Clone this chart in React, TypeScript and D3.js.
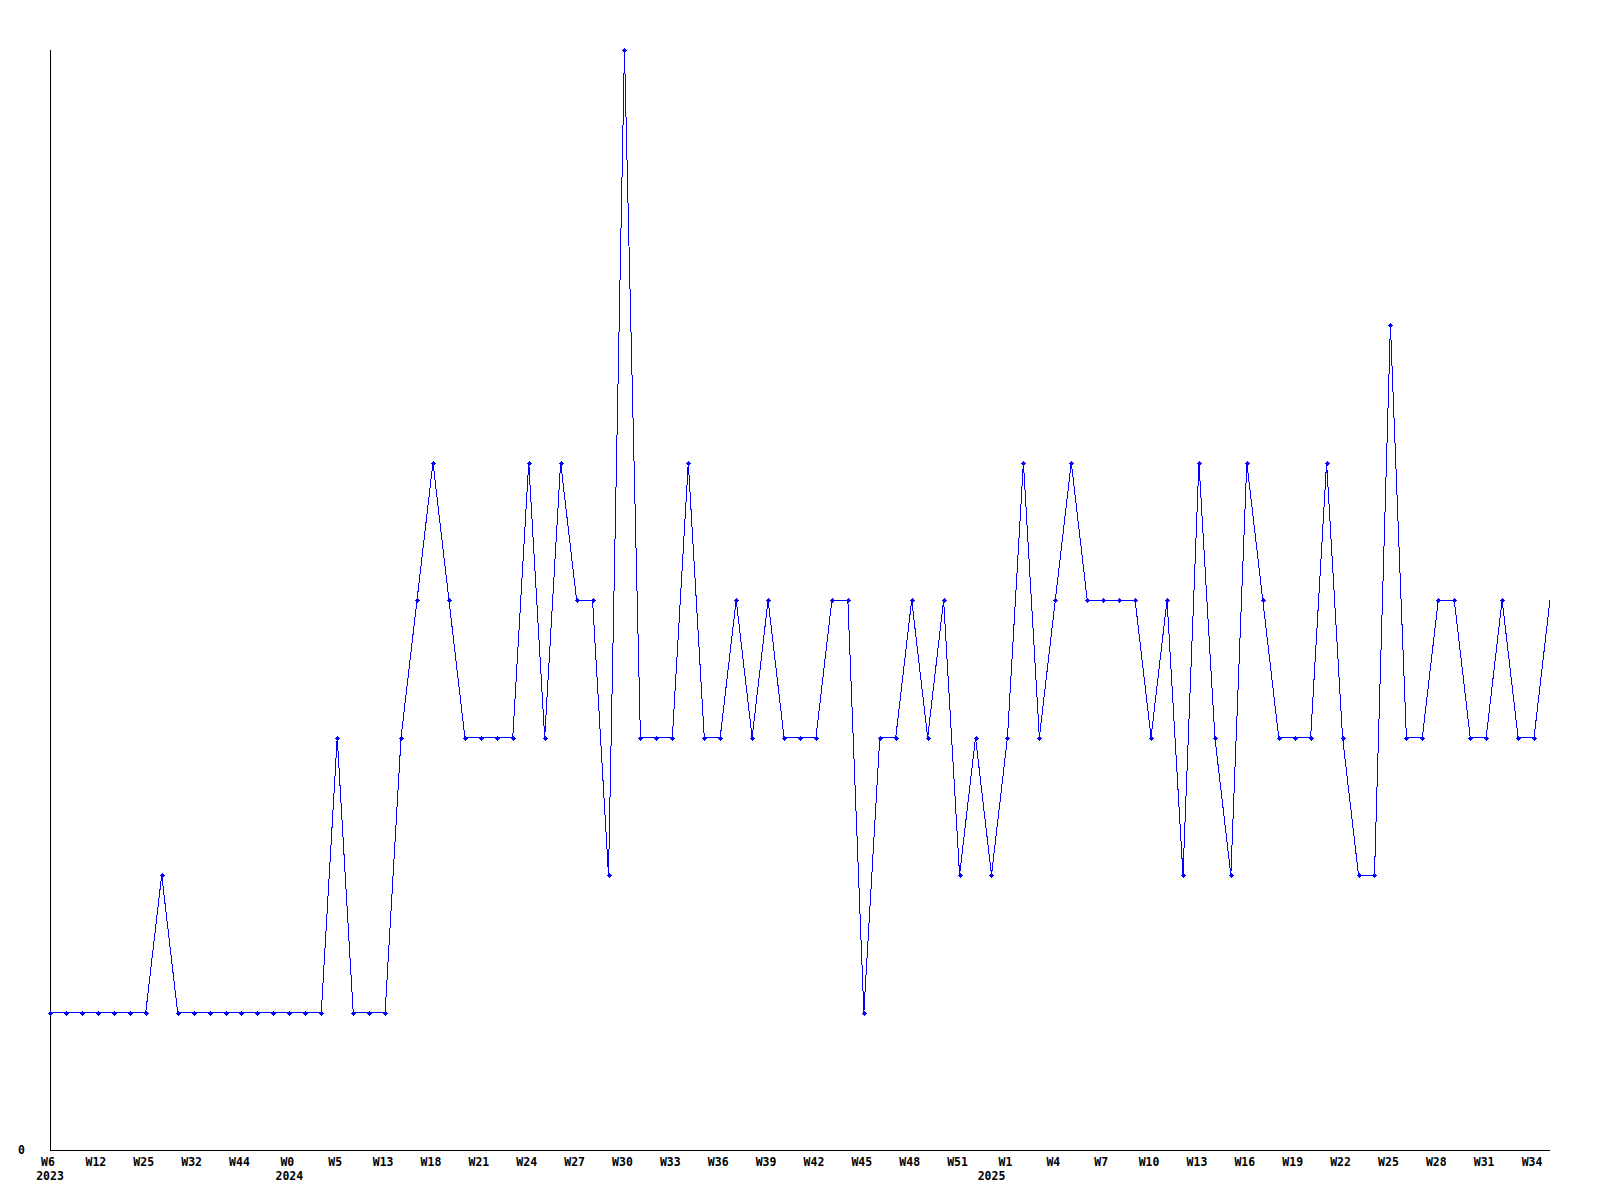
import React from "react";
import * as d3 from "d3";

const values: number[] = [
  1, 1, 1, 1, 1, 1, 1, 2, 1, 1, 1, 1, 1, 1, 1, 1, 1, 1, 3, 1,
  1, 1, 3, 4, 5, 4, 3, 3, 3, 3, 5, 3, 5, 4, 4, 2, 8, 3, 3, 3,
  5, 3, 3, 4, 3, 4, 3, 3, 3, 4, 4, 1, 3, 3, 4, 3, 4, 2, 3, 2,
  3, 5, 3, 4, 5, 4, 4, 4, 4, 3, 4, 2, 5, 3, 2, 5, 4, 3, 3, 3,
  5, 3, 2, 2, 6, 3, 3, 4, 4, 3, 3, 4, 3, 3, 4,
];

// week tick labels, one every 3 points (index, label)
const tickIndex: number[] = [0, 3, 6, 9, 12, 15, 18, 21, 24, 27, 30, 33, 36, 39, 42, 45, 48, 51, 54, 57, 60, 63, 66, 69, 72, 75, 78, 81, 84, 87, 90, 93];
const tickLabels: string[] = ["W6", "W12", "W25", "W32", "W44", "W0", "W5", "W13", "W18", "W21", "W24", "W27", "W30", "W33", "W36", "W39", "W42", "W45", "W48", "W51", "W1", "W4", "W7", "W10", "W13", "W16", "W19", "W22", "W25", "W28", "W31", "W34"];
const yearIndex: number[] = [0, 15, 59];
const yearLabels: string[] = ["2023", "2024", "2025"];
const yTickValues: number[] = [0];
const yMax = 8;

const W = 1600, H = 1200;
const left = 50, right = 1550, top = 50, bottom = 1150;
const font = "'DejaVu Sans Mono', monospace";

export default function App() {
  const x = d3.scaleLinear().domain([0, values.length - 1]).range([left, right]);
  const y = d3.scaleLinear().domain([0, yMax]).range([bottom, top]);
  const line = d3.line<number>().x((_, i) => x(i)).y((d) => y(d));
  const marker = "M-2.5,-0.5h5v1h-5z M-0.5,-2.5h1v5h-1z M-1.5,-1.5h3v3h-3z";
  return (
    <svg width={W} height={H} style={{ position: "absolute", left: 0, top: 0, background: "#fff" }}>
      <line x1={left + 0.5} y1={top} x2={left + 0.5} y2={bottom} stroke="#000" strokeWidth={1} shapeRendering="crispEdges" />
      <line x1={left} y1={bottom + 0.5} x2={right} y2={bottom + 0.5} stroke="#000" strokeWidth={1} shapeRendering="crispEdges" />
      {yTickValues.map((v) => (
        <text key={v} x={25} y={y(v) + 4} textAnchor="end" fontFamily={font} fontWeight="bold" fontSize={11.5} fill="#000">{v}</text>
      ))}
      <path d={line(values) || ""} fill="none" stroke="#0000ff" strokeWidth={1} shapeRendering="crispEdges" />
      {values.slice(0, values.length - 1).map((v, i) => (
        <path key={i} d={marker} transform={`translate(${Math.round(x(i))},${Math.round(y(v))})`} fill="#0000ff" shapeRendering="crispEdges" />
      ))}
      {tickIndex.map((idx, k) => (
        <text key={k} x={x(idx) - 2} y={1166} textAnchor="middle" fontFamily={font} fontWeight="bold" fontSize={11.5} fill="#000">{tickLabels[k]}</text>
      ))}
      {yearIndex.map((idx, k) => (
        <text key={k} x={x(idx)} y={1180} textAnchor="middle" fontFamily={font} fontWeight="bold" fontSize={11.5} fill="#000">{yearLabels[k]}</text>
      ))}
    </svg>
  );
}
